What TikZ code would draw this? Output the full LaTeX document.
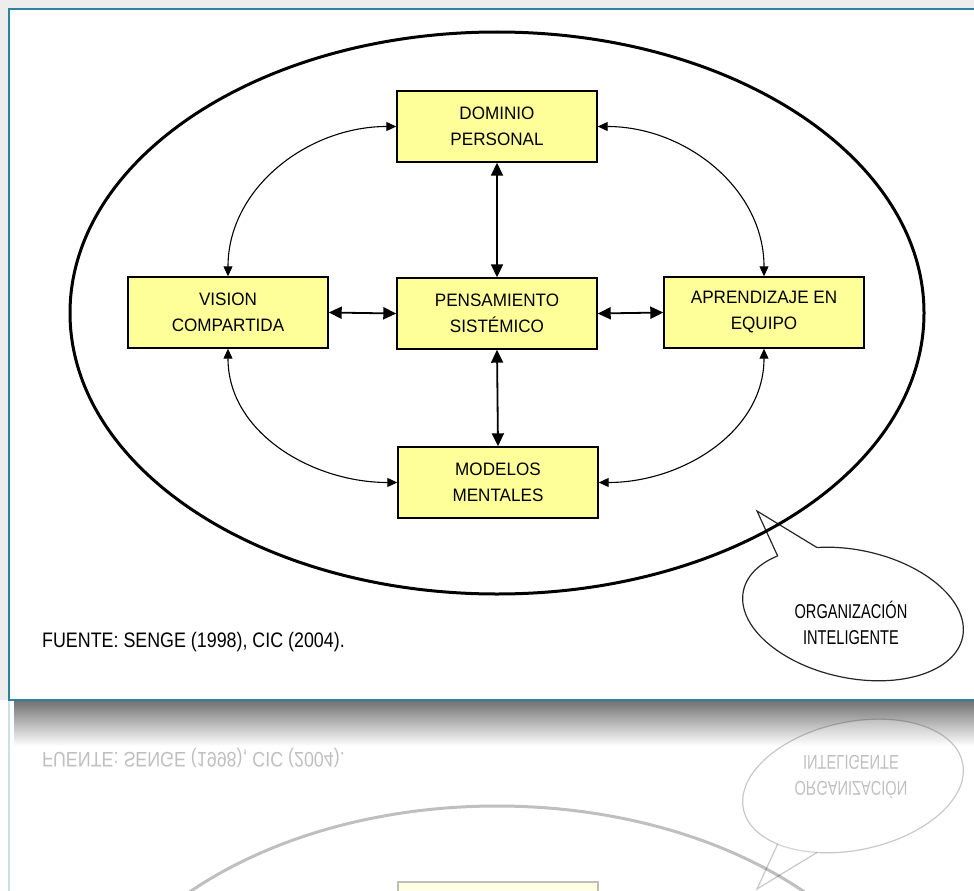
\documentclass[tikz,border=0pt]{standalone}
\usepackage{fontspec}
\setmainfont{Liberation Sans}
\newfontfamily\boxfont[FakeStretch=0.95]{Liberation Sans}
\newfontfamily\sourcefont[FakeStretch=0.85]{Liberation Sans}
\newfontfamily\bubblefont[FakeStretch=0.73]{Liberation Sans}
\usetikzlibrary{arrows.meta}

\definecolor{boxyellow}{RGB}{255,255,153}
\definecolor{panelblue}{RGB}{46,130,160}

% true while the mirrored copy under the panel is drawn
\newif\ifmirrored
\newcommand\boxtext[1]{\ifmirrored\else#1\fi}

\tikzset{
  conceptbox/.style={draw=black, line width=1.4pt, fill=boxyellow,
    minimum width=200pt, minimum height=71pt, inner sep=0pt, align=center,
    font=\boxfont\fontsize{18}{26}\selectfont},
  straightarrow/.style={line width=1.8pt,
    {Triangle[length=13pt,width=12pt]}-{Triangle[length=13pt,width=12pt]}},
  arcarrow/.style={line width=1.1pt,
    {Triangle[length=10pt,width=9pt]}-{Triangle[length=10pt,width=9pt]}},
  boundary/.style={line width=3pt, draw=black},
  bubbleline/.style={line width=1.2pt, draw=black!85},
  panelframe/.style={line width=2.2pt, draw=panelblue},
}

% the whole panel content, reused for the mirrored copy below the panel
\newcommand\orgdiagram{%
  \draw[panelframe] (9,9) rectangle (990,700);
  % five disciplines
  \node[conceptbox] (dom) at (497,126.5) {\boxtext{DOMINIO\\PERSONAL}};
  \node[conceptbox] (vis) at (228,312.5) {\boxtext{VISION\\COMPARTIDA}};
  \node[conceptbox] (pen) at (497,313.5) {\boxtext{PENSAMIENTO\\SISTÉMICO}};
  \node[conceptbox] (apr) at (764,312.5) {\boxtext{APRENDIZAJE EN\\EQUIPO}};
  \node[conceptbox] (mod) at (498,482.5) {\boxtext{MODELOS\\MENTALES}};
  % straight links through the centre
  \draw[straightarrow] (dom.south) -- (pen.north);
  \draw[straightarrow] (pen.south) -- (mod.north);
  \draw[straightarrow] (vis.east) -- (pen.west);
  \draw[straightarrow] (pen.east) -- (apr.west);
  % outer ring of curved links
  \draw[arcarrow] (vis.north) to[out=90,in=180] (dom.west);
  \draw[arcarrow] (dom.east) to[out=0,in=90] (apr.north);
  \draw[arcarrow] (vis.south) to[out=-90,in=180] (mod.west);
  \draw[arcarrow] (apr.south) to[out=-90,in=0] (mod.east);
  % speech bubble
  \coordinate (tailtip) at (757,511);
  \begin{scope}[shift={(853,614)}, rotate=-12]
    \draw[bubbleline, fill=white] (0,0) ellipse [x radius=112, y radius=64];
    \coordinate (tailL) at (220:112 and 64);
    \coordinate (tailR) at (244:112 and 64);
    \coordinate (tailLi) at (220:98 and 54);
    \coordinate (tailRi) at (244:98 and 54);
  \end{scope}
  \fill[white] (tailL) -- (tailtip) -- (tailR) -- (tailRi) -- (tailLi) -- cycle;
  \draw[bubbleline] (tailL) -- (tailtip) -- (tailR);
  \node[align=center, font=\bubblefont\fontsize{20}{26}\selectfont]
    (orgtext) at (851,623) {ORGANIZACIÓN\\INTELIGENTE};
  % organisation boundary
  \draw[boundary] (497,313) ellipse [x radius=427, y radius=281];
  % source line
  \node[anchor=west, inner sep=0pt, font=\sourcefont\fontsize{21}{24}\selectfont]
    (source) at (42,642) {FUENTE: SENGE (1998), CIC (2004).};
}

\begin{document}
\begin{tikzpicture}[x=1pt,y=-1pt]
  \useasboundingbox (0,0) rectangle (974,891);
  \clip (0,0) rectangle (974,891);
  % backdrop
  \fill[white] (0,0) rectangle (974,891);
  \fill[black!7] (0,0) rectangle (974,9);
  \fill[black!7] (0,0) rectangle (9,700);
  % drop shadow under the panel
  \shade[top color=black!55, bottom color=white] (14,701) rectangle (974,746);
  % faded mirror image below the panel
  \begin{scope}
    \clip (0,701) rectangle (974,891);
    \begin{scope}[shift={(0,1400)}, yscale=-1, transform shape, opacity=0.25]
      \mirroredtrue
      \orgdiagram
    \end{scope}
  \end{scope}
  % the panel itself
  \mirroredfalse
  \fill[white] (9,9) rectangle (990,700);
  \orgdiagram
\end{tikzpicture}
\end{document}
